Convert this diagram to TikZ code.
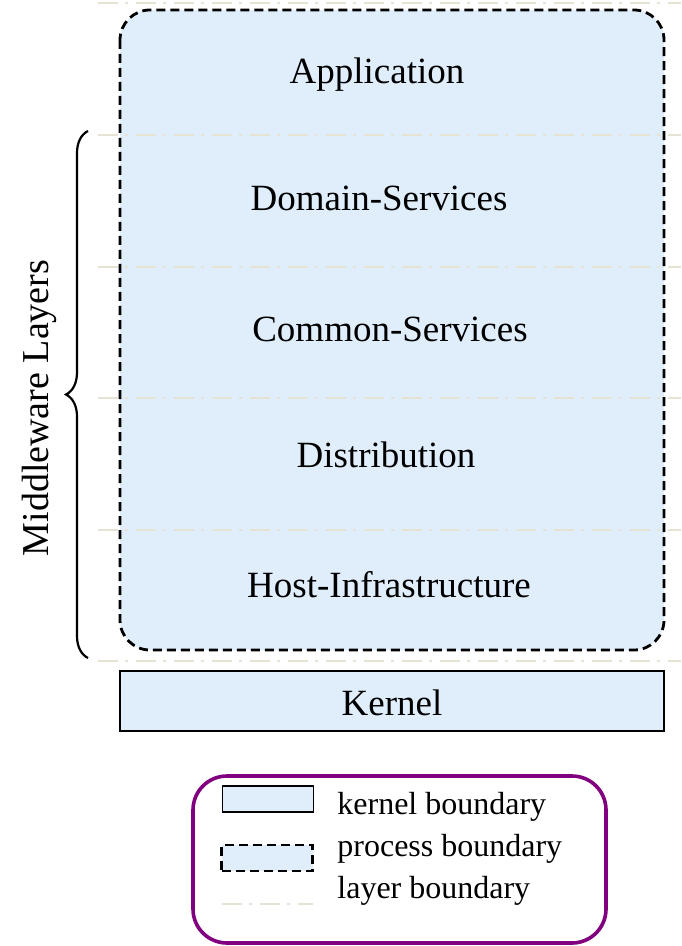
\documentclass[tikz,border=0pt]{standalone}
\usepackage{fontspec}
\setmainfont{Liberation Serif}
\usetikzlibrary{decorations.pathreplacing}
\definecolor{boxfill}{RGB}{224,238,252}
\definecolor{layercol}{RGB}{230,226,212}
\definecolor{legendcol}{RGB}{128,0,128}
\tikzset{
  lbl/.style={inner sep=0pt, anchor=base, font=\fontsize{18.5}{22}\selectfont},
  leglbl/.style={inner sep=0pt, anchor=base west, font=\fontsize{16}{19}\selectfont},
  layerline/.style={draw=layercol, line width=1.4pt, dash pattern=on 10pt off 3.5pt on 1.5pt off 4pt},
  procbox/.style={draw=black, line width=1.4pt, dash pattern=on 4.5pt off 2.5pt},
  kernbox/.style={draw=black, fill=boxfill, line width=0.8pt},
}
\begin{document}
\begin{tikzpicture}[x=0.5pt,y=-0.5pt]
\useasboundingbox (0,0) rectangle (681,946);
% process fill
\fill[boxfill, rounded corners=15pt] (120,10) rectangle (664,650);
% layer boundaries
\foreach \i/\yy in {0/3,1/135,2/267,3/398,4/530,5/661}{
  \coordinate (ls\i) at (98,\yy);
  \coordinate (le\i) at (681,\yy);
  \draw[layerline] (ls\i) -- (le\i);
}
% process border
\draw[procbox, rounded corners=15pt] (120,10) rectangle (664,650);
% kernel
\node[kernbox, minimum width=272pt, minimum height=30pt, inner sep=0pt] (kernel) at (392,701) {};
\node[lbl] (kerneltxt) at (392,715) {Kernel};
% labels
\node[lbl] (app) at (377,84) {Application};
\node[lbl] (dom) at (379,211) {Domain-Services};
\node[lbl] (com) at (390,342) {Common-Services};
\node[lbl] (dist) at (386,467) {Distribution};
\node[lbl] (host) at (389,597) {Host-Infrastructure};
% brace
\coordinate (bb) at (88,658);
\coordinate (bt) at (88,131);
\draw[line width=1.1pt, decorate, decoration={brace, amplitude=11pt}] (bb) -- (bt);
\node[lbl, rotate=90, font=\fontsize{19}{22}\selectfont] (mw) at (48,408) {Middleware Layers};
% legend
\draw[draw=legendcol, line width=1.8pt, rounded corners=17pt] (193,776) rectangle (606,943);
\node[kernbox, minimum width=45.5pt, minimum height=13pt, inner sep=0pt] (lk) at (268,799) {};
\node[procbox, fill=boxfill, minimum width=45.5pt, minimum height=13pt, inner sep=0pt] (lp) at (267,858) {};
\coordinate (lls) at (222,904);
\coordinate (lle) at (313,904);
\draw[layerline] (lls) -- (lle);
\node[leglbl] (t1) at (337,814) {kernel boundary};
\node[leglbl] (t2) at (337,856) {process boundary};
\node[leglbl] (t3) at (337,898) {layer boundary};
\end{tikzpicture}
\end{document}
